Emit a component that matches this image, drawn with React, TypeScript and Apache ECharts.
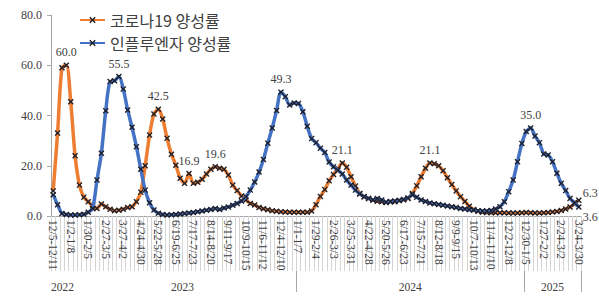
import React, { useEffect, useRef } from "react";
import * as echarts from "echarts";

// Tick labels (every 4th week, starting 12/5/2022)
const tickLabels = [
  "12/5-12/11", "1/2-1/8", "1/30-2/5", "2/27-3/5", "3/27-4/2", "4/24-4/30", "5/22-5/28",
  "6/19-6/25", "7/17-7/23", "8/14-8/20", "9/11-9/17", "10/9-10/15", "11/6-11/12", "12/4-12/10",
  "1/1-1/7", "1/29-2/4", "2/26-3/3", "3/25-3/31", "4/22-4/28", "5/20-5/26", "6/17-6/23",
  "7/15-7/21", "8/12-8/18", "9/9-9/15", "10/7-10/13", "11/4-11/10", "12/2-12/8",
  "12/30-1/5", "1/27-2/2", "2/24-3/2", "3/24-3/30",
];
const yearLabels = ["2022", "2023", "2024", "2025"];
const yearFirstWeek = [0, 4, 56, 108];

// 코로나19 양성률 (weekly, %)
const covid = [
  10.0, 33.0, 59.0, 60.0, 45.5, 24.0, 12.3, 7.5, 5.7, 4.0,
  3.0, 4.8, 3.7, 2.7, 2.1, 2.3, 2.7, 3.4, 3.7, 5.7,
  9.5, 20.0, 32.2, 40.6, 42.5, 38.6, 30.9, 24.6, 20.2, 15.0,
  13.0, 16.9, 13.0, 13.4, 14.6, 16.7, 18.6, 19.6, 19.0, 18.6,
  16.3, 12.3, 10.1, 8.0, 6.4, 5.0, 4.4, 3.4, 2.9, 2.5,
  2.1, 1.9, 1.7, 1.6, 1.5, 1.5, 1.5, 1.5, 1.5, 2.0,
  4.5, 7.8, 10.5, 14.0, 16.5, 18.8, 21.1, 19.4, 15.6, 11.9,
  9.0, 7.7, 7.0, 6.4, 5.9, 5.7, 5.4, 5.7, 5.7, 6.2,
  6.5, 7.0, 9.0, 12.0, 15.6, 19.0, 21.1, 20.8, 20.0, 18.0,
  15.2, 12.5, 10.0, 7.7, 5.8, 3.9, 2.6, 1.9, 1.5, 1.4,
  1.3, 1.3, 1.3, 1.3, 1.2, 1.2, 1.2, 1.3, 1.4, 1.3,
  1.2, 1.2, 1.3, 1.4, 1.6, 1.8, 2.2, 2.8, 3.6, 4.8,
  6.3,
];

// 인플루엔자 양성률 (weekly, %)
const flu = [
  8.5, 4.5, 1.0, 0.6, 0.4, 0.4, 0.5, 0.7, 1.5, 3.0,
  14.3, 25.0, 41.9, 53.5, 53.8, 55.5, 50.5, 42.2, 35.3, 27.6,
  18.6, 10.3, 5.3, 2.4, 1.1, 0.6, 0.4, 0.5, 0.6, 0.8,
  1.0, 1.2, 1.4, 1.7, 2.0, 2.3, 2.6, 3.0, 2.6, 3.2,
  3.6, 4.3, 5.0, 6.0, 7.7, 10.3, 13.5, 17.5, 22.5, 29.0,
  35.0, 42.0, 49.3, 47.5, 44.2, 45.0, 44.8, 41.5, 35.7, 30.8,
  29.2, 27.0, 25.3, 21.5, 19.6, 18.2, 16.7, 14.3, 12.3, 10.3,
  8.8, 7.7, 7.0, 6.4, 7.0, 6.4, 5.5, 5.8, 6.0, 6.2,
  6.6, 7.2, 8.4, 7.5, 6.4, 5.8, 5.2, 4.9, 4.6, 4.3,
  4.0, 3.7, 3.4, 3.0, 2.8, 2.5, 2.3, 2.1, 2.0, 2.0,
  2.2, 2.8, 3.7, 5.7, 9.7, 14.3, 21.6, 28.9, 33.6, 35.0,
  31.8, 29.2, 24.7, 24.3, 21.6, 17.0, 13.0, 10.1, 7.0, 5.3,
  3.6,
];

const covidLabelIdx = [3, 24, 31, 37, 66, 86];
const fluLabelIdx = [15, 52, 109];

const weeks = covid.map((_, i) => String(i));

const ORANGE = "#ED7D31";
const BLUE = "#4472C4";
const MARK = "#1e1e28";
const TEXT = "#404040";
const SERIF = "Liberation Serif";
const XMARK =
  "path://M0,1.6L1.6,0L5,3.4L8.4,0L10,1.6L6.6,5L10,8.4L8.4,10L5,6.6L1.6,10L0,8.4L3.4,5Z";

const labelStyle = { fontFamily: SERIF, fontSize: 12, color: TEXT };

function buildData(values: number[], labelIdx: number[], lastOffset: number[]) {
  return values.map((v, i) => {
    if (labelIdx.includes(i)) {
      return { value: v, label: { show: true, position: "top", distance: 4, ...labelStyle } };
    }
    if (i === values.length - 1) {
      return {
        value: v,
        label: { show: true, position: "right", distance: 1, offset: lastOffset, ...labelStyle },
      };
    }
    return v;
  });
}

export default function App() {
  const ref = useRef<HTMLDivElement>(null);
  useEffect(() => {
    if (!ref.current) return;
    const chart = echarts.init(ref.current, null, { renderer: "svg" });
    const fmt = (p: any) => Number(p.value).toFixed(1);
    chart.setOption({
      animation: false,
      backgroundColor: "#ffffff",
      grid: { left: 51, right: 18, top: 15, bottom: 80, containLabel: false },
      legend: {
        orient: "vertical",
        left: 74,
        top: 7,
        itemWidth: 25,
        itemHeight: 8,
        itemGap: 7,
        textStyle: { fontFamily: "Noto Sans CJK KR", fontSize: 16, color: TEXT, lineHeight: 16 },
        data: ["코로나19 양성률", "인플루엔자 양성률"],
      },
      xAxis: {
        type: "category",
        data: weeks,
        boundaryGap: true,
        axisLine: { show: true, lineStyle: { color: "#a6a6a6", width: 1 } },
        axisTick: { show: true, interval: 0, length: 55, lineStyle: { color: "#d4d4d4", width: 1 } },
        axisLabel: {
          interval: 3,
          rotate: -90,
          margin: 4,
          fontFamily: SERIF,
          fontSize: 11.5,
          color: TEXT,
          formatter: (_v: string, i: number) => tickLabels[Math.round(i / 4)] ?? "",
        },
        splitLine: { show: false },
      },
      yAxis: {
        type: "value",
        min: 0,
        max: 80,
        interval: 20,
        axisLine: { show: true, lineStyle: { color: "#a6a6a6", width: 1 } },
        axisTick: { show: true, length: 4, lineStyle: { color: "#a6a6a6" } },
        splitLine: { show: false },
        axisLabel: {
          margin: 9,
          fontFamily: SERIF,
          fontSize: 12,
          color: TEXT,
          formatter: (v: number) => v.toFixed(1),
        },
      },
      series: [
        {
          name: "코로나19 양성률",
          type: "line",
          data: buildData(covid, covidLabelIdx, [0, -7]),
          smooth: 0.3,
          symbol: XMARK,
          symbolSize: 6,
          showAllSymbol: true,
          itemStyle: { color: MARK },
          lineStyle: { color: ORANGE, width: 3.5 },
          label: { formatter: fmt },
          z: 2,
        },
        {
          name: "인플루엔자 양성률",
          type: "line",
          data: buildData(flu, fluLabelIdx, [0, 10]),
          smooth: 0.3,
          symbol: XMARK,
          symbolSize: 6,
          showAllSymbol: true,
          itemStyle: { color: MARK },
          lineStyle: { color: BLUE, width: 3.5 },
          label: { formatter: fmt },
          z: 3,
        },
      ],
    });

    const px = (i: number) => chart.convertToPixel({ xAxisIndex: 0 }, i) as number;
    const y0 = chart.convertToPixel({ yAxisIndex: 0 }, 0) as number;
    const bw = px(1) - px(0);
    const last = covid.length - 1;
    const groupEnds = yearFirstWeek.map((s, k) => (k + 1 < yearFirstWeek.length ? yearFirstWeek[k + 1] - 1 : last));
    const lines: any[] = [];
    [56, 108].forEach((s) => {
      const x = Math.round(px(s) - bw / 2) + 0.5;
      lines.push({ type: "line", shape: { x1: x, y1: y0, x2: x, y2: y0 + 76 }, style: { stroke: "#a6a6a6", lineWidth: 1 } });
    });
    const xe = Math.round(px(last) + bw / 2) + 0.5;
    lines.push({ type: "line", shape: { x1: xe, y1: y0, x2: xe, y2: y0 + 76 }, style: { stroke: "#a6a6a6", lineWidth: 1 } });
    const texts = yearLabels.map((t, k) => {
      const s = yearFirstWeek[k];
      const e = groupEnds[k];
      const first = k === 0;
      const x = first ? px(s) - bw / 2 : (px(s) + px(e)) / 2;
      return {
        type: "text",
        x,
        y: y0 + 71,
        style: {
          text: t,
          fill: TEXT,
          font: `11.5px "${SERIF}"`,
          textAlign: first ? "left" : "center",
          textVerticalAlign: "middle",
        },
      };
    });
    chart.setOption({ graphic: [...lines, ...texts] });

    return () => chart.dispose();
  }, []);
  return <div ref={ref} style={{ width: 599, height: 296, position: "fixed", left: 0, top: 0 }} />;
}
